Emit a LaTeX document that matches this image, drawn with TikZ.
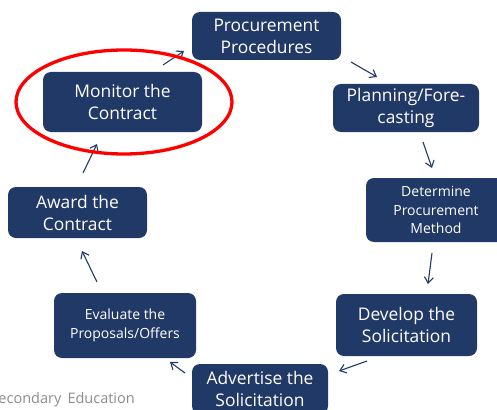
\documentclass[tikz,border=0pt]{standalone}
\usepackage{fontspec}
\setmainfont{Open Sans}
\usetikzlibrary{arrows.meta}
\definecolor{navy}{RGB}{33,57,102}
\definecolor{capgray}{RGB}{140,140,140}
\tikzset{
  box/.style={rounded corners=8pt, fill=navy, text=white, align=center, inner sep=0pt, font=\fontsize{17.4}{22}\selectfont},
  smallbox/.style={box, font=\fontsize{14}{18.5}\selectfont},
  arr/.style={draw=navy, line width=1.1pt, -{Straight Barb[length=6pt,width=9pt]}},
}
\begin{document}
\begin{tikzpicture}[x=1pt,y=-1pt]
\useasboundingbox (0,0) rectangle (497,409);
\clip (0,0) rectangle (497,409);
\node[box, minimum width=149pt, minimum height=48pt] (proc) at (266.5,36) {Procurement\\Procedures};
\node[box, minimum width=146pt, minimum height=48pt] (plan) at (406,108) {Planning/Fore-\\casting};
\node[smallbox, minimum width=140pt, minimum height=64pt] (det) at (436,210) {Determine\\Procurement\\Method};
\node[box, minimum width=141pt, minimum height=62pt] (dev) at (406.5,325) {Develop the\\Solicitation};
\node[box, minimum width=136pt, minimum height=50pt] (adv) at (260,389) {Advertise the\\Solicitation};
\node[smallbox, minimum width=142pt, minimum height=65pt] (eval) at (125,325.5) {Evaluate the\\Proposals/Offers};
\node[box, minimum width=139pt, minimum height=51pt] (award) at (77.5,212.5) {Award the\\Contract};
\node[box, minimum width=159pt, minimum height=60pt] (mon) at (122.5,102) {Monitor the\\Contract};
\coordinate (a1s) at (163,65);  \coordinate (a1e) at (184,51);
\coordinate (a2s) at (351,62);  \coordinate (a2e) at (377,77);
\coordinate (a3s) at (423,142); \coordinate (a3e) at (432,168);
\coordinate (a4s) at (432,253); \coordinate (a4e) at (428,284);
\coordinate (a5s) at (367,361); \coordinate (a5e) at (339,371);
\coordinate (a6s) at (185,373); \coordinate (a6e) at (170,362);
\coordinate (a7s) at (97,282);  \coordinate (a7e) at (82,251);
\coordinate (a8s) at (83,173);  \coordinate (a8e) at (97,144);
\draw[arr] (a1s) -- (a1e);
\draw[arr] (a2s) -- (a2e);
\draw[arr] (a3s) -- (a3e);
\draw[arr] (a4s) -- (a4e);
\draw[arr] (a5s) -- (a5e);
\draw[arr] (a6s) -- (a6e);
\draw[arr] (a7s) -- (a7e);
\draw[arr] (a8s) -- (a8e);
\draw[red, line width=3.3pt] (124,102) ellipse [x radius=108pt, y radius=52pt];
\node[anchor=base east, text=capgray, inner sep=0pt, font=\fontsize{14.5}{16}\selectfont] (cap) at (135,403) {Secondary\, Education};
\end{tikzpicture}
\end{document}
